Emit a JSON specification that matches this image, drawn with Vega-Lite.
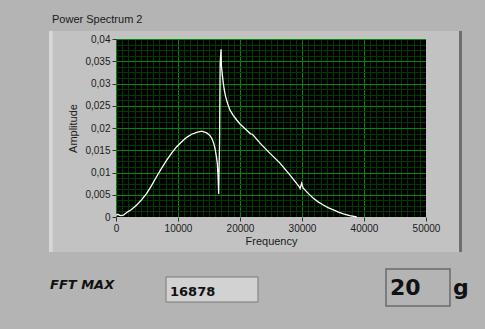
{
  "$schema": "https://vega.github.io/schema/vega-lite/v6.json",
  "width": 310,
  "height": 178,
  "autosize": {"type": "none"},
  "padding": {"left": 116, "top": 39, "right": 59, "bottom": 112},
  "background": "#b4b4b4",
  "config": {
    "view": {"fill": "#000000", "stroke": null},
    "font": "Liberation Sans"
  },
  "title": {
    "text": "Power Spectrum 2",
    "anchor": "start",
    "frame": "group",
    "dx": -64,
    "offset": 6,
    "fontSize": 11,
    "fontWeight": "normal",
    "color": "#1a1a1a",
    "font": "Liberation Sans"
  },
  "data": {
    "values": [
      {"f": 0, "a": 0.0004}, {"f": 300, "a": 0.0006}, {"f": 700, "a": 0.0003},
      {"f": 1200, "a": 0.0004}, {"f": 1720, "a": 0.001}, {"f": 2500, "a": 0.0017},
      {"f": 3340, "a": 0.0027}, {"f": 4150, "a": 0.0039}, {"f": 4950, "a": 0.0053},
      {"f": 5750, "a": 0.0071}, {"f": 6560, "a": 0.0091}, {"f": 7370, "a": 0.011},
      {"f": 8180, "a": 0.0128}, {"f": 9000, "a": 0.0144}, {"f": 9790, "a": 0.0158},
      {"f": 10600, "a": 0.0169}, {"f": 11400, "a": 0.0179}, {"f": 12200, "a": 0.0186},
      {"f": 13020, "a": 0.019}, {"f": 13820, "a": 0.0193}, {"f": 14630, "a": 0.0189},
      {"f": 15100, "a": 0.0184}, {"f": 15440, "a": 0.0177}, {"f": 15750, "a": 0.0166},
      {"f": 15970, "a": 0.0154}, {"f": 16200, "a": 0.0135}, {"f": 16340, "a": 0.0121},
      {"f": 16450, "a": 0.0095}, {"f": 16560, "a": 0.0052}, {"f": 16640, "a": 0.012},
      {"f": 16700, "a": 0.0165}, {"f": 16800, "a": 0.0345}, {"f": 16940, "a": 0.0377},
      {"f": 17000, "a": 0.034}, {"f": 17150, "a": 0.032}, {"f": 17310, "a": 0.03},
      {"f": 17500, "a": 0.0283}, {"f": 17690, "a": 0.027}, {"f": 18000, "a": 0.0255},
      {"f": 18390, "a": 0.024}, {"f": 18930, "a": 0.0228}, {"f": 19470, "a": 0.0218},
      {"f": 20000, "a": 0.0209}, {"f": 21000, "a": 0.0196}, {"f": 21700, "a": 0.0187},
      {"f": 22000, "a": 0.0186}, {"f": 22300, "a": 0.0181}, {"f": 23230, "a": 0.0166},
      {"f": 24840, "a": 0.0143}, {"f": 26450, "a": 0.0121}, {"f": 28070, "a": 0.0094},
      {"f": 29500, "a": 0.0069}, {"f": 29700, "a": 0.0064}, {"f": 29950, "a": 0.0076},
      {"f": 30200, "a": 0.0065}, {"f": 31000, "a": 0.0053}, {"f": 31830, "a": 0.0042},
      {"f": 32600, "a": 0.0034}, {"f": 33440, "a": 0.0027}, {"f": 34200, "a": 0.0021},
      {"f": 35050, "a": 0.0016}, {"f": 35900, "a": 0.0011}, {"f": 36670, "a": 0.0007},
      {"f": 37700, "a": 0.0003}, {"f": 38820, "a": 0.0}
    ]
  },
  "layer": [
    {
      "data": {"values": [{}]},
      "mark": {"type": "rect", "fill": "#c2c2c2"},
      "encoding": {
        "x": {"datum": -10806, "type": "quantitative", "scale": {"domain": [0, 50000], "nice": false, "zero": false}, "axis": null},
        "x2": {"datum": 0},
        "y": {"datum": -0.007865, "type": "quantitative", "scale": {"domain": [0, 0.04], "nice": false, "zero": false}, "axis": null},
        "y2": {"datum": 0.041798}
      }
    },
    {
      "data": {"values": [{}]},
      "mark": {"type": "rect", "fill": "#d6d6d6"},
      "encoding": {
        "x": {"datum": -10806, "type": "quantitative", "scale": {"domain": [0, 50000], "nice": false, "zero": false}, "axis": null},
        "x2": {"datum": -10200},
        "y": {"datum": -0.007865, "type": "quantitative", "scale": {"domain": [0, 0.04], "nice": false, "zero": false}, "axis": null},
        "y2": {"datum": 0.041798}
      }
    },
    {
      "data": {"values": [{}]},
      "mark": {"type": "rect", "fill": "#c2c2c2"},
      "encoding": {
        "x": {"datum": 50000, "type": "quantitative", "scale": {"domain": [0, 50000], "nice": false, "zero": false}, "axis": null},
        "x2": {"datum": 55806},
        "y": {"datum": -0.007865, "type": "quantitative", "scale": {"domain": [0, 0.04], "nice": false, "zero": false}, "axis": null},
        "y2": {"datum": 0.041798}
      }
    },
    {
      "data": {"values": [{}]},
      "mark": {"type": "rect", "fill": "#6e6e6e"},
      "encoding": {
        "x": {"datum": 55323, "type": "quantitative", "scale": {"domain": [0, 50000], "nice": false, "zero": false}, "axis": null},
        "x2": {"datum": 55806},
        "y": {"datum": -0.007865, "type": "quantitative", "scale": {"domain": [0, 0.04], "nice": false, "zero": false}, "axis": null},
        "y2": {"datum": 0.041798}
      }
    },
    {
      "data": {"values": [{}]},
      "mark": {"type": "rect", "fill": "#c2c2c2"},
      "encoding": {
        "x": {"datum": 0, "type": "quantitative", "scale": {"domain": [0, 50000], "nice": false, "zero": false}, "axis": null},
        "x2": {"datum": 50000},
        "y": {"datum": 0.04, "type": "quantitative", "scale": {"domain": [0, 0.04], "nice": false, "zero": false}, "axis": null},
        "y2": {"datum": 0.041798}
      }
    },
    {
      "data": {"values": [{}]},
      "mark": {"type": "rect", "fill": "#c2c2c2"},
      "encoding": {
        "x": {"datum": 0, "type": "quantitative", "scale": {"domain": [0, 50000], "nice": false, "zero": false}, "axis": null},
        "x2": {"datum": 50000},
        "y": {"datum": -0.007865, "type": "quantitative", "scale": {"domain": [0, 0.04], "nice": false, "zero": false}, "axis": null},
        "y2": {"datum": 0}
      }
    },
    {
      "mark": {"type": "line", "color": "#ffffff", "strokeWidth": 1.3, "interpolate": "linear"},
      "encoding": {
        "x": {
          "field": "f", "type": "quantitative",
          "scale": {"domain": [0, 50000], "nice": false, "zero": false},
          "axis": {
            "orient": "bottom", "zindex": 0, "grid": true, "labels": false, "ticks": false, "domain": false, "title": null,
            "values": [0,1000,2000,3000,4000,5000,6000,7000,8000,9000,10000,11000,12000,13000,14000,15000,16000,17000,18000,19000,20000,21000,22000,23000,24000,25000,26000,27000,28000,29000,30000,31000,32000,33000,34000,35000,36000,37000,38000,39000,40000,41000,42000,43000,44000,45000,46000,47000,48000,49000,50000],
            "gridColor": {"condition": {"test": "datum.value % 10000 === 0", "value": "#008a00"}, "value": "#003a00"},
            "gridOpacity": 1,
            "gridWidth": 1
          }
        },
        "y": {
          "field": "a", "type": "quantitative",
          "scale": {"domain": [0, 0.04], "nice": false, "zero": false},
          "axis": {
            "orient": "left", "zindex": 0, "grid": true, "labels": false, "ticks": false, "domain": false, "title": null,
            "values": [0,0.00125,0.0025,0.00375,0.005,0.00625,0.0075,0.00875,0.01,0.01125,0.0125,0.01375,0.015,0.01625,0.0175,0.01875,0.02,0.02125,0.0225,0.02375,0.025,0.02625,0.0275,0.02875,0.03,0.03125,0.0325,0.03375,0.035,0.03625,0.0375,0.03875,0.04],
            "gridColor": {"condition": {"test": "abs(datum.value * 200 - round(datum.value * 200)) < 0.01", "value": "#008a00"}, "value": "#003a00"},
            "gridOpacity": 1,
            "gridWidth": 1
          }
        }
      }
    },
    {
      "data": {"values": [{}]},
      "mark": {"type": "rect", "fill": "#d2d2d2", "stroke": "#7a7a7a", "strokeWidth": 1},
      "encoding": {
        "x": {
          "datum": 8065, "type": "quantitative",
          "scale": {"domain": [0, 50000], "nice": false, "zero": false},
          "axis": {
            "orient": "bottom", "zindex": 1, "grid": false, "domain": false,
            "values": [0, 10000, 20000, 30000, 40000, 50000], "format": "d",
            "labelFontSize": 10, "labelColor": "#1a1a1a", "labelPadding": 2, "labelFlush": false,
            "tickSize": 4, "tickColor": "#333333",
            "title": "Frequency", "titleFontSize": 11, "titleFontWeight": "normal", "titleColor": "#1a1a1a", "titlePadding": 2
          }
        },
        "x2": {"datum": 22903},
        "y": {
          "datum": -0.013483, "type": "quantitative",
          "scale": {"domain": [0, 0.04], "nice": false, "zero": false},
          "axis": {
            "orient": "left", "zindex": 1, "grid": false, "domain": false,
            "values": [0, 0.005, 0.01, 0.015, 0.02, 0.025, 0.03, 0.035, 0.04],
            "format": "~g",
            "labelExpr": "replace(datum.label, '.', ',')",
            "labelFontSize": 10, "labelColor": "#1a1a1a", "labelPadding": 2, "labelFlush": false,
            "tickSize": 4, "tickColor": "#333333",
            "title": "Amplitude", "titleFontSize": 11, "titleFontWeight": "normal", "titleColor": "#1a1a1a", "titlePadding": 6
          }
        },
        "y2": {"datum": -0.019101}
      }
    },
    {
      "data": {"values": [{}]},
      "mark": {"type": "rect", "fill": "#b4b4b4", "stroke": "#6a6a6a", "strokeWidth": 1.5},
      "encoding": {
        "x": {"datum": 43548, "type": "quantitative", "scale": {"domain": [0, 50000], "nice": false, "zero": false}, "axis": null},
        "x2": {"datum": 53871},
        "y": {"datum": -0.011685, "type": "quantitative", "scale": {"domain": [0, 0.04], "nice": false, "zero": false}, "axis": null},
        "y2": {"datum": -0.02}
      }
    },
    {
      "data": {"values": [{}]},
      "mark": {"type": "text", "text": "FFT MAX", "font": "DejaVu Sans", "fontSize": 13, "fontWeight": "bold", "fontStyle": "italic", "align": "left", "baseline": "alphabetic", "color": "#111111"},
      "encoding": {
        "x": {"datum": -10645, "type": "quantitative", "scale": {"domain": [0, 50000], "nice": false, "zero": false}, "axis": null},
        "y": {"datum": -0.01618, "type": "quantitative", "scale": {"domain": [0, 0.04], "nice": false, "zero": false}, "axis": null}
      }
    },
    {
      "data": {"values": [{}]},
      "mark": {"type": "text", "text": "16878", "font": "DejaVu Sans", "fontSize": 13, "fontWeight": "bold", "align": "left", "baseline": "alphabetic", "color": "#111111"},
      "encoding": {
        "x": {"datum": 8710, "type": "quantitative", "scale": {"domain": [0, 50000], "nice": false, "zero": false}, "axis": null},
        "y": {"datum": -0.017753, "type": "quantitative", "scale": {"domain": [0, 0.04], "nice": false, "zero": false}, "axis": null}
      }
    },
    {
      "data": {"values": [{}]},
      "mark": {"type": "text", "text": "20", "font": "DejaVu Sans", "fontSize": 22, "fontWeight": "bold", "align": "left", "baseline": "alphabetic", "color": "#111111"},
      "encoding": {
        "x": {"datum": 44194, "type": "quantitative", "scale": {"domain": [0, 50000], "nice": false, "zero": false}, "axis": null},
        "y": {"datum": -0.017528, "type": "quantitative", "scale": {"domain": [0, 0.04], "nice": false, "zero": false}, "axis": null}
      }
    },
    {
      "data": {"values": [{}]},
      "mark": {"type": "text", "text": "g", "font": "DejaVu Sans", "fontSize": 22, "fontWeight": "bold", "align": "left", "baseline": "alphabetic", "color": "#111111"},
      "encoding": {
        "x": {"datum": 54355, "type": "quantitative", "scale": {"domain": [0, 50000], "nice": false, "zero": false}, "axis": null},
        "y": {"datum": -0.017528, "type": "quantitative", "scale": {"domain": [0, 0.04], "nice": false, "zero": false}, "axis": null}
      }
    }
  ],
  "resolve": {"axis": {"x": "independent", "y": "independent"}}
}
